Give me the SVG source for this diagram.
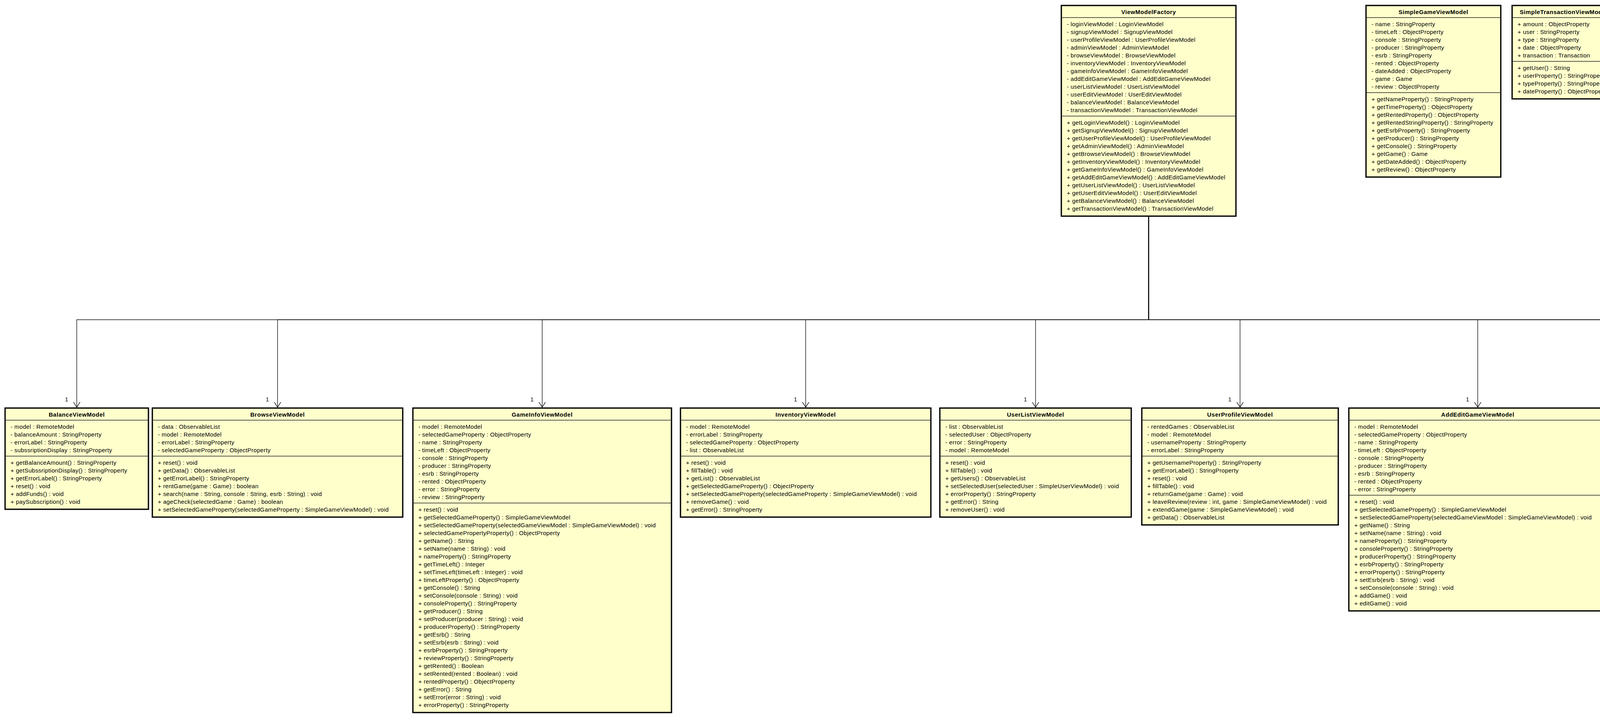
<svg xmlns="http://www.w3.org/2000/svg" width="5988" height="1837" viewBox="0 0 5988 1837">
<style>
.node rect{fill:#FFFFCC;stroke:#000;stroke-width:3.3}
.sep{stroke:#222;stroke-width:1.3}
.t{font-family:"Liberation Sans",Arial,sans-serif;font-weight:bold;font-size:15px;letter-spacing:0.55px;text-anchor:middle;fill:#000}
.m{font-family:"Liberation Sans",Arial,sans-serif;font-size:15px;letter-spacing:0.35px;fill:#000}
.c{fill:none;stroke:#111;stroke-width:1.4;marker-end:url(#open)}
.mult{font-family:"Liberation Sans",Arial,sans-serif;font-size:15px;text-anchor:middle;fill:#000}
</style>
<defs>
<marker id="open" markerUnits="userSpaceOnUse" viewBox="-15 -10 17 20" refX="0" refY="0" markerWidth="17" markerHeight="20" orient="auto" overflow="visible">
<path d="M-13,-8.3 L0,0 L-13,8.3" fill="none" stroke="#111" stroke-width="1.4"/>
</marker>
</defs>
<rect width="5988" height="1837" fill="#fff"/>

<g id="connectors">
<path class="c" d="M2940.5,553 V818 H196.5 V1042"/>
<path class="c" d="M2940.5,553 V818 H710.5 V1042"/>
<path class="c" d="M2940.5,553 V818 H1388 V1042"/>
<path class="c" d="M2940.5,553 V818 H2062.5 V1042"/>
<path class="c" d="M2940.5,553 V818 H2651 V1042"/>
<path class="c" d="M2940.5,553 V818 H3174.5 V1042"/>
<path class="c" d="M2940.5,553 V818 H3783 V1042"/>
<path class="c" d="M2940.5,553 V818 H4296.5 V1042"/>
<path class="c" d="M2940.5,553 V818 H4642 V1042"/>
<path class="c" d="M2940.5,553 V818 H4997.5 V1042"/>
<path class="c" d="M2940.5,553 V818 H5323.5 V1042"/>
<path class="c" d="M2940.5,553 V818 H5729.5 V1042"/>
<text class="mult" x="170.5" y="1027">1</text>
<text class="mult" x="684.5" y="1027">1</text>
<text class="mult" x="1362" y="1027">1</text>
<text class="mult" x="2036.5" y="1027">1</text>
<text class="mult" x="2625" y="1027">1</text>
<text class="mult" x="3148.5" y="1027">1</text>
<text class="mult" x="3757" y="1027">1</text>
<text class="mult" x="4270.5" y="1027">1</text>
<text class="mult" x="4616" y="1027">1</text>
<text class="mult" x="4971.5" y="1027">1</text>
<text class="mult" x="5297.5" y="1027">1</text>
<text class="mult" x="5703.5" y="1027">1</text>
</g>

<g id="ViewModelFactory" class="node">
<rect x="2717" y="14" width="447" height="539"/>
<line class="sep" x1="2717" y1="45" x2="3164" y2="45"/>
<line class="sep" x1="2717" y1="297" x2="3164" y2="297"/>
<text class="t" x="2940.5" y="36">ViewModelFactory</text>
<text class="m" y="67"><tspan x="2731">- loginViewModel : LoginViewModel</tspan><tspan x="2731" dy="20">- signupViewModel : SignupViewModel</tspan><tspan x="2731" dy="20">- userProfileViewModel : UserProfileViewModel</tspan><tspan x="2731" dy="20">- adminViewModel : AdminViewModel</tspan><tspan x="2731" dy="20">- browseViewModel : BrowseViewModel</tspan><tspan x="2731" dy="20">- inventoryViewModel : InventoryViewModel</tspan><tspan x="2731" dy="20">- gameInfoViewModel : GameInfoViewModel</tspan><tspan x="2731" dy="20">- addEditGameViewModel : AddEditGameViewModel</tspan><tspan x="2731" dy="20">- userListViewModel : UserListViewModel</tspan><tspan x="2731" dy="20">- userEditViewModel : UserEditViewModel</tspan><tspan x="2731" dy="20">- balanceViewModel : BalanceViewModel</tspan><tspan x="2731" dy="20">- transactionViewModel : TransactionViewModel</tspan></text>
<text class="m" y="319"><tspan x="2731">+ getLoginViewModel() : LoginViewModel</tspan><tspan x="2731" dy="20">+ getSignupViewModel() : SignupViewModel</tspan><tspan x="2731" dy="20">+ getUserProfileViewModel() : UserProfileViewModel</tspan><tspan x="2731" dy="20">+ getAdminViewModel() : AdminViewModel</tspan><tspan x="2731" dy="20">+ getBrowseViewModel() : BrowseViewModel</tspan><tspan x="2731" dy="20">+ getInventoryViewModel() : InventoryViewModel</tspan><tspan x="2731" dy="20">+ getGameInfoViewModel() : GameInfoViewModel</tspan><tspan x="2731" dy="20">+ getAddEditGameViewModel() : AddEditGameViewModel</tspan><tspan x="2731" dy="20">+ getUserListViewModel() : UserListViewModel</tspan><tspan x="2731" dy="20">+ getUserEditViewModel() : UserEditViewModel</tspan><tspan x="2731" dy="20">+ getBalanceViewModel() : BalanceViewModel</tspan><tspan x="2731" dy="20">+ getTransactionViewModel() : TransactionViewModel</tspan></text>
</g>

<g id="SimpleGameViewModel" class="node">
<rect x="3497" y="14" width="345" height="439"/>
<line class="sep" x1="3497" y1="45" x2="3842" y2="45"/>
<line class="sep" x1="3497" y1="237" x2="3842" y2="237"/>
<text class="t" x="3669.5" y="36">SimpleGameViewModel</text>
<text class="m" y="67"><tspan x="3511">- name : StringProperty</tspan><tspan x="3511" dy="20">- timeLeft : ObjectProperty</tspan><tspan x="3511" dy="20">- console : StringProperty</tspan><tspan x="3511" dy="20">- producer : StringProperty</tspan><tspan x="3511" dy="20">- esrb : StringProperty</tspan><tspan x="3511" dy="20">- rented : ObjectProperty</tspan><tspan x="3511" dy="20">- dateAdded : ObjectProperty</tspan><tspan x="3511" dy="20">- game : Game</tspan><tspan x="3511" dy="20">- review : ObjectProperty</tspan></text>
<text class="m" y="259"><tspan x="3511">+ getNameProperty() : StringProperty</tspan><tspan x="3511" dy="20">+ getTimeProperty() : ObjectProperty</tspan><tspan x="3511" dy="20">+ getRentedProperty() : ObjectProperty</tspan><tspan x="3511" dy="20">+ getRentedStringProperty() : StringProperty</tspan><tspan x="3511" dy="20">+ getEsrbProperty() : StringProperty</tspan><tspan x="3511" dy="20">+ getProducer() : StringProperty</tspan><tspan x="3511" dy="20">+ getConsole() : StringProperty</tspan><tspan x="3511" dy="20">+ getGame() : Game</tspan><tspan x="3511" dy="20">+ getDateAdded() : ObjectProperty</tspan><tspan x="3511" dy="20">+ getReview() : ObjectProperty</tspan></text>
</g>

<g id="SimpleTransactionViewModel" class="node">
<rect x="3871" y="14" width="264" height="239"/>
<line class="sep" x1="3871" y1="45" x2="4135" y2="45"/>
<line class="sep" x1="3871" y1="157" x2="4135" y2="157"/>
<text class="t" x="4003" y="36">SimpleTransactionViewModel</text>
<text class="m" y="67"><tspan x="3885">+ amount : ObjectProperty</tspan><tspan x="3885" dy="20">+ user : StringProperty</tspan><tspan x="3885" dy="20">+ type : StringProperty</tspan><tspan x="3885" dy="20">+ date : ObjectProperty</tspan><tspan x="3885" dy="20">+ transaction : Transaction</tspan></text>
<text class="m" y="179"><tspan x="3885">+ getUser() : String</tspan><tspan x="3885" dy="20">+ userProperty() : StringProperty</tspan><tspan x="3885" dy="20">+ typeProperty() : StringProperty</tspan><tspan x="3885" dy="20">+ dateProperty() : ObjectProperty</tspan></text>
</g>

<g id="SimpleUserViewModel" class="node">
<rect x="4163" y="14" width="307" height="519"/>
<line class="sep" x1="4163" y1="45" x2="4470" y2="45"/>
<line class="sep" x1="4163" y1="257" x2="4470" y2="257"/>
<text class="t" x="4316.5" y="36">SimpleUserViewModel</text>
<text class="m" y="67"><tspan x="4177">- username : StringProperty</tspan><tspan x="4177" dy="20">- password : StringProperty</tspan><tspan x="4177" dy="20">- isAdmin : BooleanProperty</tspan><tspan x="4177" dy="20">- email : StringProperty</tspan><tspan x="4177" dy="20">- address : StringProperty</tspan><tspan x="4177" dy="20">- name : StringProperty</tspan><tspan x="4177" dy="20">- bday : ObjectProperty</tspan><tspan x="4177" dy="20">- hasSubscription : BooleanProperty</tspan><tspan x="4177" dy="20">- user : User</tspan><tspan x="4177" dy="20">- age : IntegerProperty</tspan></text>
<text class="m" y="279"><tspan x="4177">+ getUsername() : String</tspan><tspan x="4177" dy="20">+ usernameProperty() : StringProperty</tspan><tspan x="4177" dy="20">+ getPassword() : String</tspan><tspan x="4177" dy="20">+ isIsAdmin() : boolean</tspan><tspan x="4177" dy="20">+ getEmail() : String</tspan><tspan x="4177" dy="20">+ emailProperty() : StringProperty</tspan><tspan x="4177" dy="20">+ getAddress() : String</tspan><tspan x="4177" dy="20">+ getName() : String</tspan><tspan x="4177" dy="20">+ getBday() : LocalDate</tspan><tspan x="4177" dy="20">+ bdayProperty() : ObjectProperty</tspan><tspan x="4177" dy="20">+ isHasSubscription() : boolean</tspan><tspan x="4177" dy="20">+ getAge() : int</tspan><tspan x="4177" dy="20">+ getUser() : User</tspan></text>
</g>

<g id="BalanceViewModel" class="node">
<rect x="13" y="1044" width="367" height="259"/>
<line class="sep" x1="13" y1="1075" x2="380" y2="1075"/>
<line class="sep" x1="13" y1="1167" x2="380" y2="1167"/>
<text class="t" x="196.5" y="1066">BalanceViewModel</text>
<text class="m" y="1097"><tspan x="27">- model : RemoteModel</tspan><tspan x="27" dy="20">- balanceAmount : StringProperty</tspan><tspan x="27" dy="20">- errorLabel : StringProperty</tspan><tspan x="27" dy="20">- subssriptionDisplay : StringProperty</tspan></text>
<text class="m" y="1189"><tspan x="27">+ getBalanceAmount() : StringProperty</tspan><tspan x="27" dy="20">+ getSubssriptionDisplay() : StringProperty</tspan><tspan x="27" dy="20">+ getErrorLabel() : StringProperty</tspan><tspan x="27" dy="20">+ reset() : void</tspan><tspan x="27" dy="20">+ addFunds() : void</tspan><tspan x="27" dy="20">+ paySubscription() : void</tspan></text>
</g>

<g id="BrowseViewModel" class="node">
<rect x="390" y="1044" width="641" height="279"/>
<line class="sep" x1="390" y1="1075" x2="1031" y2="1075"/>
<line class="sep" x1="390" y1="1167" x2="1031" y2="1167"/>
<text class="t" x="710.5" y="1066">BrowseViewModel</text>
<text class="m" y="1097"><tspan x="404">- data : ObservableList</tspan><tspan x="404" dy="20">- model : RemoteModel</tspan><tspan x="404" dy="20">- errorLabel : StringProperty</tspan><tspan x="404" dy="20">- selectedGameProperty : ObjectProperty</tspan></text>
<text class="m" y="1189"><tspan x="404">+ reset() : void</tspan><tspan x="404" dy="20">+ getData() : ObservableList</tspan><tspan x="404" dy="20">+ getErrorLabel() : StringProperty</tspan><tspan x="404" dy="20">+ rentGame(game : Game) : boolean</tspan><tspan x="404" dy="20">+ search(name : String, console : String, esrb : String) : void</tspan><tspan x="404" dy="20">+ ageCheck(selectedGame : Game) : boolean</tspan><tspan x="404" dy="20">+ setSelectedGameProperty(selectedGameProperty : SimpleGameViewModel) : void</tspan></text>
</g>

<g id="GameInfoViewModel" class="node">
<rect x="1057" y="1044" width="662" height="779"/>
<line class="sep" x1="1057" y1="1075" x2="1719" y2="1075"/>
<line class="sep" x1="1057" y1="1287" x2="1719" y2="1287"/>
<text class="t" x="1388" y="1066">GameInfoViewModel</text>
<text class="m" y="1097"><tspan x="1071">- model : RemoteModel</tspan><tspan x="1071" dy="20">- selectedGameProperty : ObjectProperty</tspan><tspan x="1071" dy="20">- name : StringProperty</tspan><tspan x="1071" dy="20">- timeLeft : ObjectProperty</tspan><tspan x="1071" dy="20">- console : StringProperty</tspan><tspan x="1071" dy="20">- producer : StringProperty</tspan><tspan x="1071" dy="20">- esrb : StringProperty</tspan><tspan x="1071" dy="20">- rented : ObjectProperty</tspan><tspan x="1071" dy="20">- error : StringProperty</tspan><tspan x="1071" dy="20">- review : StringProperty</tspan></text>
<text class="m" y="1309"><tspan x="1071">+ reset() : void</tspan><tspan x="1071" dy="20">+ getSelectedGameProperty() : SimpleGameViewModel</tspan><tspan x="1071" dy="20">+ setSelectedGameProperty(selectedGameViewModel : SimpleGameViewModel) : void</tspan><tspan x="1071" dy="20">+ selectedGamePropertyProperty() : ObjectProperty</tspan><tspan x="1071" dy="20">+ getName() : String</tspan><tspan x="1071" dy="20">+ setName(name : String) : void</tspan><tspan x="1071" dy="20">+ nameProperty() : StringProperty</tspan><tspan x="1071" dy="20">+ getTimeLeft() : Integer</tspan><tspan x="1071" dy="20">+ setTimeLeft(timeLeft : Integer) : void</tspan><tspan x="1071" dy="20">+ timeLeftProperty() : ObjectProperty</tspan><tspan x="1071" dy="20">+ getConsole() : String</tspan><tspan x="1071" dy="20">+ setConsole(console : String) : void</tspan><tspan x="1071" dy="20">+ consoleProperty() : StringProperty</tspan><tspan x="1071" dy="20">+ getProducer() : String</tspan><tspan x="1071" dy="20">+ setProducer(producer : String) : void</tspan><tspan x="1071" dy="20">+ producerProperty() : StringProperty</tspan><tspan x="1071" dy="20">+ getEsrb() : String</tspan><tspan x="1071" dy="20">+ setEsrb(esrb : String) : void</tspan><tspan x="1071" dy="20">+ esrbProperty() : StringProperty</tspan><tspan x="1071" dy="20">+ reviewProperty() : StringProperty</tspan><tspan x="1071" dy="20">+ getRented() : Boolean</tspan><tspan x="1071" dy="20">+ setRented(rented : Boolean) : void</tspan><tspan x="1071" dy="20">+ rentedProperty() : ObjectProperty</tspan><tspan x="1071" dy="20">+ getError() : String</tspan><tspan x="1071" dy="20">+ setError(error : String) : void</tspan><tspan x="1071" dy="20">+ errorProperty() : StringProperty</tspan></text>
</g>

<g id="InventoryViewModel" class="node">
<rect x="1742" y="1044" width="641" height="279"/>
<line class="sep" x1="1742" y1="1075" x2="2383" y2="1075"/>
<line class="sep" x1="1742" y1="1167" x2="2383" y2="1167"/>
<text class="t" x="2062.5" y="1066">InventoryViewModel</text>
<text class="m" y="1097"><tspan x="1756">- model : RemoteModel</tspan><tspan x="1756" dy="20">- errorLabel : StringProperty</tspan><tspan x="1756" dy="20">- selectedGameProperty : ObjectProperty</tspan><tspan x="1756" dy="20">- list : ObservableList</tspan></text>
<text class="m" y="1189"><tspan x="1756">+ reset() : void</tspan><tspan x="1756" dy="20">+ fillTable() : void</tspan><tspan x="1756" dy="20">+ getList() : ObservableList</tspan><tspan x="1756" dy="20">+ getSelectedGameProperty() : ObjectProperty</tspan><tspan x="1756" dy="20">+ setSelectedGameProperty(selectedGameProperty : SimpleGameViewModel) : void</tspan><tspan x="1756" dy="20">+ removeGame() : void</tspan><tspan x="1756" dy="20">+ getError() : StringProperty</tspan></text>
</g>

<g id="UserListViewModel" class="node">
<rect x="2406" y="1044" width="490" height="279"/>
<line class="sep" x1="2406" y1="1075" x2="2896" y2="1075"/>
<line class="sep" x1="2406" y1="1167" x2="2896" y2="1167"/>
<text class="t" x="2651" y="1066">UserListViewModel</text>
<text class="m" y="1097"><tspan x="2420">- list : ObservableList</tspan><tspan x="2420" dy="20">- selectedUser : ObjectProperty</tspan><tspan x="2420" dy="20">- error : StringProperty</tspan><tspan x="2420" dy="20">- model : RemoteModel</tspan></text>
<text class="m" y="1189"><tspan x="2420">+ reset() : void</tspan><tspan x="2420" dy="20">+ fillTable() : void</tspan><tspan x="2420" dy="20">+ getUsers() : ObservableList</tspan><tspan x="2420" dy="20">+ setSelectedUser(selectedUser : SimpleUserViewModel) : void</tspan><tspan x="2420" dy="20">+ errorProperty() : StringProperty</tspan><tspan x="2420" dy="20">+ getError() : String</tspan><tspan x="2420" dy="20">+ removeUser() : void</tspan></text>
</g>

<g id="UserProfileViewModel" class="node">
<rect x="2923" y="1044" width="503" height="299"/>
<line class="sep" x1="2923" y1="1075" x2="3426" y2="1075"/>
<line class="sep" x1="2923" y1="1167" x2="3426" y2="1167"/>
<text class="t" x="3174.5" y="1066">UserProfileViewModel</text>
<text class="m" y="1097"><tspan x="2937">- rentedGames : ObservableList</tspan><tspan x="2937" dy="20">- model : RemoteModel</tspan><tspan x="2937" dy="20">- usernameProperty : StringProperty</tspan><tspan x="2937" dy="20">- errorLabel : StringProperty</tspan></text>
<text class="m" y="1189"><tspan x="2937">+ getUsernameProperty() : StringProperty</tspan><tspan x="2937" dy="20">+ getErrorLabel() : StringProperty</tspan><tspan x="2937" dy="20">+ reset() : void</tspan><tspan x="2937" dy="20">+ fillTable() : void</tspan><tspan x="2937" dy="20">+ returnGame(game : Game) : void</tspan><tspan x="2937" dy="20">+ leaveReview(review : int, game : SimpleGameViewModel) : void</tspan><tspan x="2937" dy="20">+ extendGame(game : SimpleGameViewModel) : void</tspan><tspan x="2937" dy="20">+ getData() : ObservableList</tspan></text>
</g>

<g id="AddEditGameViewModel" class="node">
<rect x="3453" y="1044" width="660" height="519"/>
<line class="sep" x1="3453" y1="1075" x2="4113" y2="1075"/>
<line class="sep" x1="3453" y1="1267" x2="4113" y2="1267"/>
<text class="t" x="3783" y="1066">AddEditGameViewModel</text>
<text class="m" y="1097"><tspan x="3467">- model : RemoteModel</tspan><tspan x="3467" dy="20">- selectedGameProperty : ObjectProperty</tspan><tspan x="3467" dy="20">- name : StringProperty</tspan><tspan x="3467" dy="20">- timeLeft : ObjectProperty</tspan><tspan x="3467" dy="20">- console : StringProperty</tspan><tspan x="3467" dy="20">- producer : StringProperty</tspan><tspan x="3467" dy="20">- esrb : StringProperty</tspan><tspan x="3467" dy="20">- rented : ObjectProperty</tspan><tspan x="3467" dy="20">- error : StringProperty</tspan></text>
<text class="m" y="1289"><tspan x="3467">+ reset() : void</tspan><tspan x="3467" dy="20">+ getSelectedGameProperty() : SimpleGameViewModel</tspan><tspan x="3467" dy="20">+ setSelectedGameProperty(selectedGameViewModel : SimpleGameViewModel) : void</tspan><tspan x="3467" dy="20">+ getName() : String</tspan><tspan x="3467" dy="20">+ setName(name : String) : void</tspan><tspan x="3467" dy="20">+ nameProperty() : StringProperty</tspan><tspan x="3467" dy="20">+ consoleProperty() : StringProperty</tspan><tspan x="3467" dy="20">+ producerProperty() : StringProperty</tspan><tspan x="3467" dy="20">+ esrbProperty() : StringProperty</tspan><tspan x="3467" dy="20">+ errorProperty() : StringProperty</tspan><tspan x="3467" dy="20">+ setEsrb(esrb : String) : void</tspan><tspan x="3467" dy="20">+ setConsole(console : String) : void</tspan><tspan x="3467" dy="20">+ addGame() : void</tspan><tspan x="3467" dy="20">+ editGame() : void</tspan></text>
</g>

<g id="AdminViewModel" class="node">
<rect x="4139" y="1044" width="315" height="319"/>
<line class="sep" x1="4139" y1="1075" x2="4454" y2="1075"/>
<line class="sep" x1="4139" y1="1207" x2="4454" y2="1207"/>
<text class="t" x="4296.5" y="1066">AdminViewModel</text>
<text class="m" y="1097"><tspan x="4153">- model : RemoteModel</tspan><tspan x="4153" dy="20">- registeredUsers : StringProperty</tspan><tspan x="4153" dy="20">- totalGames : StringProperty</tspan><tspan x="4153" dy="20">- rentedGames : StringProperty</tspan><tspan x="4153" dy="20">- recentGame : StringProperty</tspan><tspan x="4153" dy="20">- errorLabel : StringProperty</tspan></text>
<text class="m" y="1229"><tspan x="4153">+ getRegisteredUsers() : StringProperty</tspan><tspan x="4153" dy="20">+ getTotalGames() : StringProperty</tspan><tspan x="4153" dy="20">+ getRentedGames() : StringProperty</tspan><tspan x="4153" dy="20">+ getRecentGame() : StringProperty</tspan><tspan x="4153" dy="20">+ getErrorLabel() : StringProperty</tspan><tspan x="4153" dy="20">+ reset() : void</tspan><tspan x="4153" dy="20">+ updateLabels() : void</tspan></text>
</g>

<g id="LoginViewModel" class="node">
<rect x="4478" y="1044" width="328" height="259"/>
<line class="sep" x1="4478" y1="1075" x2="4806" y2="1075"/>
<line class="sep" x1="4478" y1="1167" x2="4806" y2="1167"/>
<text class="t" x="4642" y="1066">LoginViewModel</text>
<text class="m" y="1097"><tspan x="4492">- model : RemoteModel</tspan><tspan x="4492" dy="20">- usernameProperty : StringProperty</tspan><tspan x="4492" dy="20">- passwordProperty : StringProperty</tspan><tspan x="4492" dy="20">- errorLabel : StringProperty</tspan></text>
<text class="m" y="1189"><tspan x="4492">+ getUsernameProperty() : StringProperty</tspan><tspan x="4492" dy="20">+ getPasswordProperty() : StringProperty</tspan><tspan x="4492" dy="20">+ getErrorLabel() : StringProperty</tspan><tspan x="4492" dy="20">+ login() : boolean</tspan><tspan x="4492" dy="20">+ reset() : void</tspan><tspan x="4492" dy="20">+ logout() : void</tspan></text>
</g>

<g id="SignupViewModel" class="node">
<rect x="4835" y="1044" width="325" height="439"/>
<line class="sep" x1="4835" y1="1075" x2="5160" y2="1075"/>
<line class="sep" x1="4835" y1="1267" x2="5160" y2="1267"/>
<text class="t" x="4997.5" y="1066">SignupViewModel</text>
<text class="m" y="1097"><tspan x="4849">- model : RemoteModel</tspan><tspan x="4849" dy="20">- usernameProperty : StringProperty</tspan><tspan x="4849" dy="20">- passwordProperty : StringProperty</tspan><tspan x="4849" dy="20">- nameProperty : StringProperty</tspan><tspan x="4849" dy="20">- dobProperty : ObjectProperty</tspan><tspan x="4849" dy="20">- addressProperty : StringProperty</tspan><tspan x="4849" dy="20">- emailProperty : StringProperty</tspan><tspan x="4849" dy="20">- confirmProperty : StringProperty</tspan><tspan x="4849" dy="20">- errorLabel : StringProperty</tspan></text>
<text class="m" y="1289"><tspan x="4849">+ getNameProperty() : StringProperty</tspan><tspan x="4849" dy="20">+ getDobProperty() : ObjectProperty</tspan><tspan x="4849" dy="20">+ getAddressProperty() : StringProperty</tspan><tspan x="4849" dy="20">+ getEmailProperty() : StringProperty</tspan><tspan x="4849" dy="20">+ getConfirmProperty() : StringProperty</tspan><tspan x="4849" dy="20">+ getUsernameProperty() : StringProperty</tspan><tspan x="4849" dy="20">+ getErrorLabel() : StringProperty</tspan><tspan x="4849" dy="20">+ getPasswordProperty() : StringProperty</tspan><tspan x="4849" dy="20">+ signup() : boolean</tspan><tspan x="4849" dy="20">+ reset() : void</tspan></text>
</g>

<g id="TransactionViewModel" class="node">
<rect x="5190" y="1044" width="267" height="179"/>
<line class="sep" x1="5190" y1="1075" x2="5457" y2="1075"/>
<line class="sep" x1="5190" y1="1147" x2="5457" y2="1147"/>
<text class="t" x="5323.5" y="1066">TransactionViewModel</text>
<text class="m" y="1097"><tspan x="5204">- data : ObservableList</tspan><tspan x="5204" dy="20">- model : RemoteModel</tspan><tspan x="5204" dy="20">- errorLabel : StringProperty</tspan></text>
<text class="m" y="1169"><tspan x="5204">+ reset() : void</tspan><tspan x="5204" dy="20">+ getData() : ObservableList</tspan><tspan x="5204" dy="20">+ getErrorLabel() : StringProperty</tspan></text>
</g>

<g id="UserEditViewModel" class="node">
<rect x="5483" y="1044" width="493" height="659"/>
<line class="sep" x1="5483" y1="1075" x2="5976" y2="1075"/>
<line class="sep" x1="5483" y1="1347" x2="5976" y2="1347"/>
<text class="t" x="5729.5" y="1066">UserEditViewModel</text>
<text class="m" y="1097"><tspan x="5497">- model : RemoteModel</tspan><tspan x="5497" dy="20">- usernameProperty : StringProperty</tspan><tspan x="5497" dy="20">- passwordProperty : StringProperty</tspan><tspan x="5497" dy="20">- nameProperty : StringProperty</tspan><tspan x="5497" dy="20">- dobProperty : ObjectProperty</tspan><tspan x="5497" dy="20">- addressProperty : StringProperty</tspan><tspan x="5497" dy="20">- emailProperty : StringProperty</tspan><tspan x="5497" dy="20">- confirmProperty : StringProperty</tspan><tspan x="5497" dy="20">- errorLabel : StringProperty</tspan><tspan x="5497" dy="20">- balanceLabel : StringProperty</tspan><tspan x="5497" dy="20">- fineRefundProperty : StringProperty</tspan><tspan x="5497" dy="20">- selectedUserProperty : ObjectProperty</tspan><tspan x="5497" dy="20">- hasSubscriptionProperty : StringProperty</tspan></text>
<text class="m" y="1369"><tspan x="5497">+ getNameProperty() : StringProperty</tspan><tspan x="5497" dy="20">+ getDobProperty() : ObjectProperty</tspan><tspan x="5497" dy="20">+ getAddressProperty() : StringProperty</tspan><tspan x="5497" dy="20">+ getEmailProperty() : StringProperty</tspan><tspan x="5497" dy="20">+ getConfirmProperty() : StringProperty</tspan><tspan x="5497" dy="20">+ getUsernameProperty() : StringProperty</tspan><tspan x="5497" dy="20">+ getErrorLabel() : StringProperty</tspan><tspan x="5497" dy="20">+ getBalanceLabel() : StringProperty</tspan><tspan x="5497" dy="20">+ getFineRefundProperty() : StringProperty</tspan><tspan x="5497" dy="20">+ getHasSubscriptionProperty() : StringProperty</tspan><tspan x="5497" dy="20">+ getPasswordProperty() : StringProperty</tspan><tspan x="5497" dy="20">+ editUser() : void</tspan><tspan x="5497" dy="20">+ getUser() : SimpleUserViewModel</tspan><tspan x="5497" dy="20">+ reset() : void</tspan><tspan x="5497" dy="20">+ setSelectedUserProperty(simp : SimpleUserViewModel) : void</tspan><tspan x="5497" dy="20">+ fineRefund() : void</tspan><tspan x="5497" dy="20">+ revokeSubscription() : void</tspan></text>
</g>
</svg>
